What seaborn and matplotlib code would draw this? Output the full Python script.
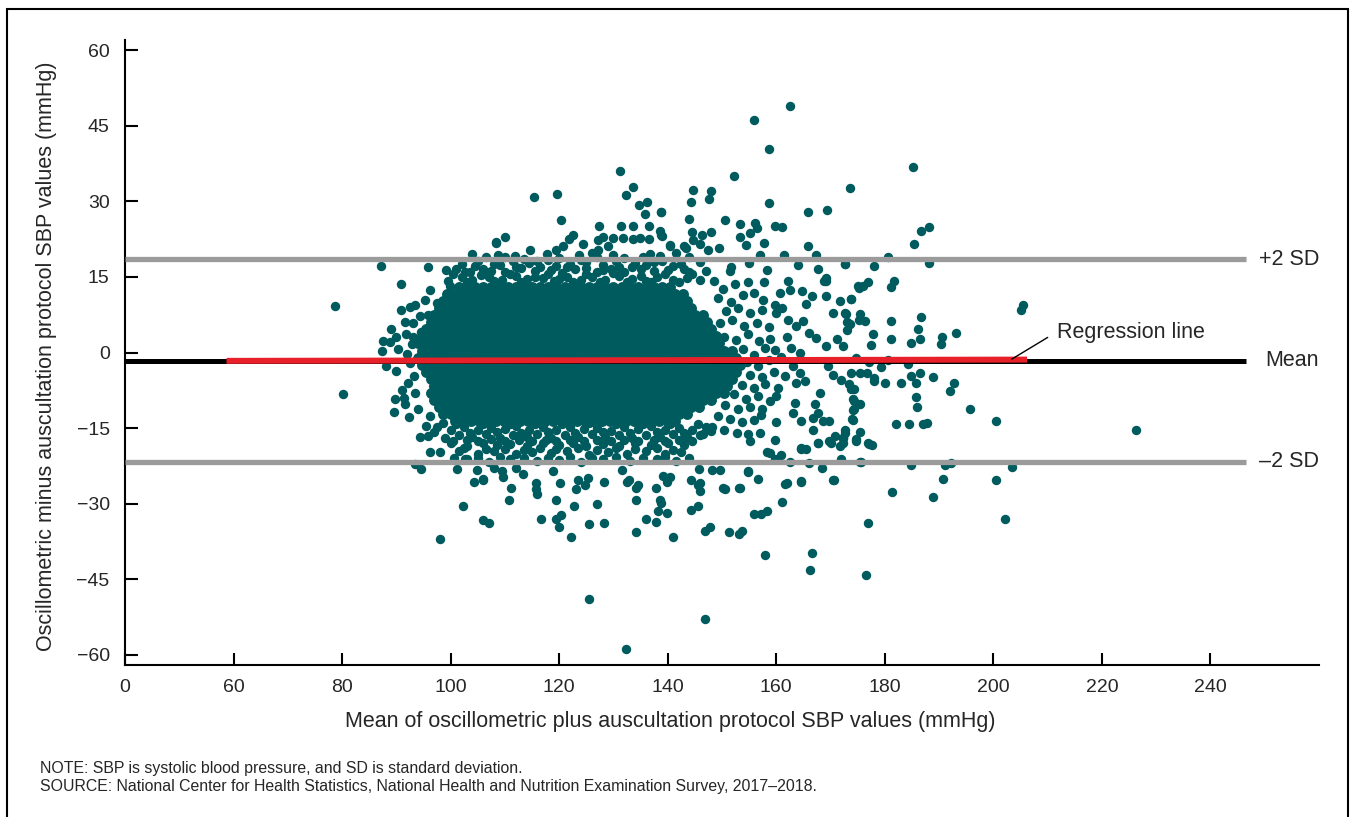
import matplotlib
matplotlib.use("Agg")
import matplotlib.pyplot as plt
from matplotlib.patches import Rectangle
import seaborn as sns
import pandas as pd

# summary lines (mmHg)
mean_diff = -1.6
sd_upper = 18.5
sd_lower = -21.7
regression_x = [58.7, 206.2]
regression_y = [-1.65, -1.4]

x_ticks = [40, 60, 80, 100, 120, 140, 160, 180, 200, 220, 240]
x_tick_labels = ["0", "60", "80", "100", "120", "140", "160", "180", "200", "220", "240"]
y_ticks = [-60, -45, -30, -15, 0, 15, 30, 45, 60]

# solid central mass, read row by row (y, x values)
core_rows = [
    (13.0, [101.5, 103, 104.5, 106, 107.5, 109, 110.5, 112, 113.5, 115, 116.5, 118, 119.5, 121, 122.5, 124,
            125.5, 127, 128.5, 130, 131.5, 133, 134.5, 136, 137.5, 139, 140.5]),
    (11.6, [99.3, 100.8, 102.3, 103.8, 105.3, 106.8, 108.3, 109.8, 111.3, 112.8, 114.3, 115.8, 117.3, 118.8,
            120.3, 121.8, 123.3, 124.8, 126.3, 127.8, 129.3, 130.8, 132.3, 133.8, 135.3, 136.8, 138.3, 139.8,
            141.3, 142.8]),
    (10.2, [98.5, 100, 101.5, 103, 104.5, 106, 107.5, 109, 110.5, 112, 113.5, 115, 116.5, 118, 119.5, 121,
            122.5, 124, 125.5, 127, 128.5, 130, 131.5, 133, 134.5, 136, 137.5, 139, 140.5, 142, 143.5]),
    (8.8, [97.8, 99.3, 100.8, 102.3, 103.8, 105.3, 106.8, 108.3, 109.8, 111.3, 112.8, 114.3, 115.8, 117.3,
           118.8, 120.3, 121.8, 123.3, 124.8, 126.3, 127.8, 129.3, 130.8, 132.3, 133.8, 135.3, 136.8, 138.3,
           139.8, 141.3, 142.8, 144.3]),
    (7.4, [97, 98.5, 100, 101.5, 103, 104.5, 106, 107.5, 109, 110.5, 112, 113.5, 115, 116.5, 118, 119.5, 121,
           122.5, 124, 125.5, 127, 128.5, 130, 131.5, 133, 134.5, 136, 137.5, 139, 140.5, 142, 143.5, 145,
           146.5]),
    (6.0, [96.3, 97.8, 99.3, 100.8, 102.3, 103.8, 105.3, 106.8, 108.3, 109.8, 111.3, 112.8, 114.3, 115.8,
           117.3, 118.8, 120.3, 121.8, 123.3, 124.8, 126.3, 127.8, 129.3, 130.8, 132.3, 133.8, 135.3, 136.8,
           138.3, 139.8, 141.3, 142.8, 144.3, 145.8, 147.3]),
    (4.6, [95.5, 97, 98.5, 100, 101.5, 103, 104.5, 106, 107.5, 109, 110.5, 112, 113.5, 115, 116.5, 118, 119.5,
           121, 122.5, 124, 125.5, 127, 128.5, 130, 131.5, 133, 134.5, 136, 137.5, 139, 140.5, 142, 143.5,
           145, 146.5, 148]),
    (3.2, [94.8, 96.3, 97.8, 99.3, 100.8, 102.3, 103.8, 105.3, 106.8, 108.3, 109.8, 111.3, 112.8, 114.3,
           115.8, 117.3, 118.8, 120.3, 121.8, 123.3, 124.8, 126.3, 127.8, 129.3, 130.8, 132.3, 133.8, 135.3,
           136.8, 138.3, 139.8, 141.3, 142.8, 144.3, 145.8, 147.3, 148.8]),
    (1.8, [94, 95.5, 97, 98.5, 100, 101.5, 103, 104.5, 106, 107.5, 109, 110.5, 112, 113.5, 115, 116.5, 118,
           119.5, 121, 122.5, 124, 125.5, 127, 128.5, 130, 131.5, 133, 134.5, 136, 137.5, 139, 140.5, 142,
           143.5, 145, 146.5, 148, 149.5]),
    (0.4, [94.8, 96.3, 97.8, 99.3, 100.8, 102.3, 103.8, 105.3, 106.8, 108.3, 109.8, 111.3, 112.8, 114.3,
           115.8, 117.3, 118.8, 120.3, 121.8, 123.3, 124.8, 126.3, 127.8, 129.3, 130.8, 132.3, 133.8, 135.3,
           136.8, 138.3, 139.8, 141.3, 142.8, 144.3, 145.8, 147.3, 148.8, 150.3, 151.8]),
    (-1.0, [94, 95.5, 97, 98.5, 100, 101.5, 103, 104.5, 106, 107.5, 109, 110.5, 112, 113.5, 115, 116.5, 118,
            119.5, 121, 122.5, 124, 125.5, 127, 128.5, 130, 131.5, 133, 134.5, 136, 137.5, 139, 140.5, 142,
            143.5, 145, 146.5, 148, 149.5, 151, 152.5]),
    (-2.4, [94.8, 96.3, 97.8, 99.3, 100.8, 102.3, 103.8, 105.3, 106.8, 108.3, 109.8, 111.3, 112.8, 114.3,
            115.8, 117.3, 118.8, 120.3, 121.8, 123.3, 124.8, 126.3, 127.8, 129.3, 130.8, 132.3, 133.8, 135.3,
            136.8, 138.3, 139.8, 141.3, 142.8, 144.3, 145.8, 147.3, 148.8, 150.3, 151.8, 153.3]),
    (-3.8, [95.5, 97, 98.5, 100, 101.5, 103, 104.5, 106, 107.5, 109, 110.5, 112, 113.5, 115, 116.5, 118,
            119.5, 121, 122.5, 124, 125.5, 127, 128.5, 130, 131.5, 133, 134.5, 136, 137.5, 139, 140.5, 142,
            143.5, 145, 146.5, 148, 149.5, 151, 152.5]),
    (-5.2, [96.3, 97.8, 99.3, 100.8, 102.3, 103.8, 105.3, 106.8, 108.3, 109.8, 111.3, 112.8, 114.3, 115.8,
            117.3, 118.8, 120.3, 121.8, 123.3, 124.8, 126.3, 127.8, 129.3, 130.8, 132.3, 133.8, 135.3, 136.8,
            138.3, 139.8, 141.3, 142.8, 144.3, 145.8, 147.3, 148.8, 150.3, 151.8]),
    (-6.6, [97, 98.5, 100, 101.5, 103, 104.5, 106, 107.5, 109, 110.5, 112, 113.5, 115, 116.5, 118, 119.5, 121,
            122.5, 124, 125.5, 127, 128.5, 130, 131.5, 133, 134.5, 136, 137.5, 139, 140.5, 142, 143.5, 145,
            146.5, 148, 149.5, 151]),
    (-8.0, [96.3, 97.8, 99.3, 100.8, 102.3, 103.8, 105.3, 106.8, 108.3, 109.8, 111.3, 112.8, 114.3, 115.8,
            117.3, 118.8, 120.3, 121.8, 123.3, 124.8, 126.3, 127.8, 129.3, 130.8, 132.3, 133.8, 135.3, 136.8,
            138.3, 139.8, 141.3, 142.8, 144.3, 145.8, 147.3, 148.8, 150.3]),
    (-9.4, [97, 98.5, 100, 101.5, 103, 104.5, 106, 107.5, 109, 110.5, 112, 113.5, 115, 116.5, 118, 119.5, 121,
            122.5, 124, 125.5, 127, 128.5, 130, 131.5, 133, 134.5, 136, 137.5, 139, 140.5, 142, 143.5, 145,
            146.5, 148]),
    (-10.8, [97.8, 99.3, 100.8, 102.3, 103.8, 105.3, 106.8, 108.3, 109.8, 111.3, 112.8, 114.3, 115.8, 117.3,
             118.8, 120.3, 121.8, 123.3, 124.8, 126.3, 127.8, 129.3, 130.8, 132.3, 133.8, 135.3, 136.8, 138.3,
             139.8, 141.3, 142.8, 144.3, 145.8]),
    (-12.2, [98.5, 100, 101.5, 103, 104.5, 106, 107.5, 109, 110.5, 112, 113.5, 115, 116.5, 118, 119.5, 121,
             122.5, 124, 125.5, 127, 128.5, 130, 131.5, 133, 134.5, 136, 137.5, 139, 140.5, 142, 143.5]),
    (-13.6, [100.8, 102.3, 103.8, 105.3, 106.8, 108.3, 109.8, 111.3, 112.8, 114.3, 115.8, 117.3, 118.8, 120.3,
             121.8, 123.3, 124.8, 126.3, 127.8, 129.3, 130.8, 132.3, 133.8, 135.3, 136.8, 138.3, 139.8, 141.3]),
]

# gappy band just above the mass
band_upper = [
    (99.5, 14.2), (102, 15.0), (104, 14.4), (107, 14.9), (109.5, 14.3), (112, 15.1), (114, 14.5), (117, 14.8),
    (119, 14.2), (121.5, 15.0), (124, 14.4), (126, 14.9), (128.5, 14.3), (131, 15.1), (133.5, 14.6),
    (136, 14.2), (138, 15.0), (141, 14.4), (143.5, 14.8),
    (101, 16.5), (103.5, 15.9), (106, 16.6), (110, 16.0), (113, 16.7), (115.5, 16.1), (118.5, 16.4),
    (120.5, 15.8), (123, 16.6), (127, 16.0), (129.5, 16.5), (132, 15.9), (135, 16.6), (137.5, 16.1),
    (140, 16.4), (144, 15.9),
    (102, 17.6), (105, 18.2), (108, 17.5), (111.5, 18.1), (114.5, 17.7), (118, 18.3), (122, 17.6), (125, 18.0),
    (128, 17.4), (130.5, 18.2), (134, 17.8), (139, 18.1), (142.5, 17.5), (146, 18.0),
    (104, 19.6), (108.8, 19.4), (111.8, 19.2), (117.7, 19.5), (123.6, 19.3), (126, 19.8), (130, 19.4),
    (136.8, 19.6), (138.5, 19.2), (141.5, 19.7),
    (100.5, 15.6), (103, 14.0), (105.5, 15.3), (108, 14.1), (111, 15.6), (113, 13.9), (115.5, 15.0),
    (118, 15.6), (120, 14.6), (122.5, 13.9), (125, 15.5), (127.5, 14.0), (130, 15.7), (132.5, 13.9),
    (135, 15.2), (137, 14.0), (139.5, 15.5), (142, 13.9), (144.5, 15.6), (146, 14.4),
    (104.5, 17.1), (107.5, 16.2), (109, 17.3), (112, 16.9), (116.5, 17.0), (119.5, 17.2), (121.5, 16.9),
    (125, 16.8), (128, 16.4), (131, 17.0), (133.5, 16.9), (136, 17.3), (141, 17.1), (143, 16.6), (147, 16.2),
    (106.5, 18.9), (110, 19.0), (113.5, 18.6), (116, 18.2), (120, 18.8), (124, 18.4), (127, 18.9),
    (132, 18.7), (135.5, 18.9), (137.5, 17.9), (144, 18.9),
]

# gappy band just below the mass
band_lower = [
    (97.5, -14.7), (100, -15.3), (102.5, -14.8), (105, -15.4), (107.5, -14.9), (110, -15.2), (112, -14.6),
    (114.5, -15.3), (117, -14.8), (119.5, -15.4), (122, -14.7), (124.5, -15.2), (127, -14.9), (129.5, -15.5),
    (132, -14.8), (134.5, -15.1), (137, -14.6), (139.5, -15.3), (142, -14.9), (144.5, -15.4), (147, -14.8),
    (99, -16.9), (101.5, -16.3), (104, -16.8), (106.5, -16.2), (109, -16.9), (111.5, -16.4), (114, -16.7),
    (116, -16.1), (118.5, -16.9), (121, -16.4), (123.5, -16.8), (126, -16.2), (128.5, -16.7), (131, -16.3),
    (133.5, -16.9), (136, -16.4), (138.5, -16.8), (141, -16.2), (143.5, -16.7), (146, -16.3),
    (100, -18.0), (103, -18.5), (106, -17.9), (108.5, -18.4), (111, -18.1), (114, -18.6), (117, -18.0),
    (120, -18.4), (122.5, -17.9), (125, -18.5), (128, -18.1), (131, -18.6), (134, -18.0), (137, -18.3),
    (140, -17.9), (143, -18.4),
    (101.5, -19.6), (105, -20.1), (108, -19.5), (112, -20.2), (115, -19.7), (118.5, -20.0), (121.5, -19.5),
    (125.5, -20.3), (129, -19.8), (132.5, -20.1), (136, -19.6), (139.5, -20.2), (142.5, -19.7),
    (103, -21.2), (107, -21.7), (111, -21.1), (116, -21.6), (120, -21.3), (124, -21.8), (128, -21.2),
    (133, -21.6), (138, -21.1), (141.5, -21.5),
    (98.5, -14.0), (101, -14.2), (103.5, -15.9), (106, -14.1), (108.5, -15.8), (111, -14.1), (113, -15.9),
    (115.5, -14.2), (118, -15.8), (120.5, -14.1), (123, -15.9), (125.5, -14.0), (128, -15.8), (130.5, -14.2),
    (133, -15.9), (135.5, -14.1), (138, -15.8), (140.5, -14.2), (143, -15.9), (145.5, -14.1), (148, -15.6),
    (100.5, -17.5), (103, -17.3), (105, -17.6), (107.5, -17.2), (110, -17.6), (112.5, -17.4), (115, -17.5),
    (117.5, -17.3), (119.5, -17.6), (122, -17.3), (124.5, -17.6), (127, -17.4), (129.5, -17.5), (132, -17.4),
    (134.5, -17.6), (137.5, -17.3), (139.5, -17.6), (142, -17.4), (144.5, -17.5),
    (102.5, -19.0), (106.5, -19.2), (110, -19.1), (113.5, -19.3), (116.5, -18.9), (119.5, -19.2),
    (123.5, -19.0), (127, -19.3), (130.5, -19.0), (134, -19.2), (138, -19.0), (141, -19.3),
    (105, -21.0), (109, -20.8), (113.5, -21.0), (118, -20.9), (122, -20.7), (126, -21.0), (130.5, -20.8),
    (135.5, -20.9), (139.5, -20.7), (144, -20.9),
]

left_fringe = [
    (87.6, 2.2), (87.4, 0.3), (88.8, 2.0), (89.0, 4.6), (90.0, 3.1), (90.3, 0.7), (91.7, 3.7), (93.1, 5.9),
    (94.3, 7.2), (95.9, 7.5), (88.0, -2.7), (90.0, -3.7), (89.8, -9.3), (91.4, -9.0), (91.6, -10.3),
    (89.6, -11.8), (92.1, -6.1), (92.5, -2.0), (92.9, 1.6), (92.3, -12.8), (93.5, 9.5), (90.8, 8.5),
    (95.4, -14.6), (93.2, -4.6), (91.1, -7.5), (92.0, -0.3), (93.4, -8.1), (94.0, -11.2), (94.5, 4.0),
    (93.0, 3.0), (91.5, 6.0), (95.3, 10.5), (96.2, -12.6), (97.0, -15.8), (94.3, -16.8), (92.6, 9.0),
    (97.4, 9.9), (80.2, -8.3), (78.7, 9.3),
]

right_fill = [
    (148.5, 14.2), (150.2, 12.6), (152.4, 13.5), (149.3, 10.8), (151.6, 10.1), (153.8, 11.4), (155.9, 11.9),
    (150.8, 8.2), (153.0, 8.9), (155.2, 7.8), (157.3, 8.4), (149.6, 5.8), (151.9, 6.4), (154.1, 5.3),
    (156.4, 5.9), (158.6, 5.1), (150.3, 3.1), (152.6, 2.4), (154.7, 3.6), (156.8, 2.2), (153.9, 0.8),
    (155.8, -0.4), (157.9, 0.9), (154.6, -1.9), (156.7, -2.6), (158.7, -1.5), (160.8, -0.8), (155.2, -4.4),
    (157.4, -4.9), (159.5, -3.9), (161.6, -4.6), (153.6, -6.4), (155.8, -7.1), (158.0, -6.2), (152.2, -8.3),
    (154.4, -9.2), (156.6, -8.6), (150.6, -10.5), (152.9, -11.3), (155.1, -10.9), (157.3, -11.2),
    (149.2, -12.6), (151.4, -13.1), (153.6, -13.8), (155.9, -13.4), (148.1, -14.7), (150.4, -15.4),
    (152.7, -15.9), (154.8, -16.2), (146.5, -16.1),
]

upper_sparse = [
    (108.3, 21.9), (87.1, 17.1), (95.9, 17.0), (99.2, 16.3), (102.6, 16.0), (105.9, 15.9), (90.8, 13.6),
    (96.2, 12.4), (99.9, 13.2), (131.2, 36.0), (133.6, 32.9), (132.3, 31.3), (115.4, 30.9), (119.6, 31.5),
    (134.7, 29.2), (136.2, 29.8), (135.8, 27.5), (138.7, 27.9), (120.4, 26.3), (127.3, 25.2), (131.3, 25.2),
    (133.6, 25.2), (136.5, 25.2), (138.5, 24.1), (139.0, 23.2), (110.0, 23.0), (108.3, 21.7), (122.6, 23.4),
    (121.8, 22.6), (124.3, 21.6), (127.2, 22.4), (128.1, 23.0), (130.0, 22.7), (131.8, 22.7), (133.6, 22.5),
    (134.8, 22.8), (136.5, 22.6), (120.7, 21.1), (119.5, 20.4), (114.6, 20.3), (140.5, 21.3), (129.0, 21.1),
    (127.2, 20.4), (162.5, 48.9), (155.8, 46.1), (158.7, 40.3), (152.2, 35.1), (173.5, 32.7), (144.7, 32.2),
    (147.9, 32.0), (144.2, 29.8), (147.6, 30.4), (158.7, 29.7), (165.8, 27.9), (169.3, 28.2), (138.8, 27.9),
    (143.9, 26.5), (150.5, 26.3), (153.4, 25.6), (156.1, 25.7), (156.4, 24.7), (155.1, 23.7), (153.3, 23.0),
    (154.5, 21.4), (159.8, 25.2), (161.1, 24.9), (144.5, 23.9), (146.3, 23.4), (147.9, 23.9), (144.6, 22.4),
    (145.9, 21.6), (138.8, 23.4), (140.5, 21.2), (143.0, 21.1), (143.4, 20.8), (149.4, 20.8), (147.4, 20.3),
    (157.7, 21.8), (165.8, 21.1), (185.2, 36.8), (186.7, 24.1), (188.2, 25.0), (185.4, 21.6), (180.6, 19.0),
]

right_sparse = [
    (157.0, 19.4), (161.5, 19.4), (167.4, 19.4), (172.6, 17.6), (164.0, 17.3), (167.7, 16.6), (169.1, 14.8),
    (168.8, 14.1), (175.0, 13.2), (158.2, 16.3), (155.0, 17.8), (151.7, 17.0), (151.5, 16.1), (154.8, 14.0),
    (157.7, 14.0), (162.2, 14.1), (162.5, 12.5), (160.6, 11.8), (164.8, 12.2), (166.5, 11.2), (165.5, 9.7),
    (169.2, 14.1), (169.1, 11.2), (171.7, 10.2), (173.7, 10.6), (172.6, 7.9), (170.4, 7.9), (173.1, 6.0),
    (157.5, 10.5), (159.7, 9.5), (161.1, 8.9), (160.0, 7.9), (162.2, 6.5), (163.7, 5.2), (165.0, 6.2),
    (166.1, 3.9), (167.4, 2.9), (169.2, 1.2), (171.1, 2.7), (172.3, 1.3), (161.9, 3.1), (162.8, 0.9),
    (164.3, 0.0), (158.8, 2.6), (159.7, 0.6), (163.1, -2.7), (164.3, -4.0), (165.2, -5.7), (163.7, -6.0),
    (169.5, -2.7), (170.4, -4.4), (171.9, -5.4), (173.4, -6.3), (173.8, -7.2), (168.0, -8.0), (167.1, -10.3),
    (167.7, -12.0), (168.6, -13.6), (163.4, -10.0), (163.1, -12.0), (164.6, -13.6), (166.8, -13.0),
    (169.8, -13.6), (160.3, -7.0), (160.0, -8.7), (158.8, -9.7), (157.2, -12.3), (160.0, -13.8),
    (174.1, -9.3), (174.3, -11.3), (174.1, -13.3), (172.6, -15.3), (172.2, -16.9), (171.7, -18.6),
    (166.8, -15.3), (167.7, -17.9), (165.5, -19.2), (164.6, -19.1), (169.8, -17.6), (170.8, -16.6),
    (159.7, -17.3), (160.9, -20.4), (158.8, -19.9), (157.0, -15.9), (155.1, -17.6),
    (172.7, 17.6), (178.0, 17.1), (188.2, 17.8), (175.2, 12.8), (176.0, 13.2), (176.9, 14.0), (181.2, 13.0),
    (181.7, 14.1), (173.8, 10.6), (205.0, 8.5), (205.4, 9.5), (172.9, 7.7), (175.5, 7.7), (176.4, 6.2),
    (175.2, 6.5), (173.5, 5.6), (173.1, 4.4), (181.2, 6.2), (186.7, 7.0), (186.2, 4.6), (186.4, 2.6),
    (177.8, 3.7), (177.5, 1.4), (181.2, 2.6), (184.9, 1.9), (190.5, 3.1), (190.3, 1.6), (193.2, 3.9),
    (174.7, -1.0), (177.0, -1.9), (179.3, -2.8), (180.6, -1.5), (184.3, -2.3), (173.8, -4.0), (175.4, -4.0),
    (176.7, -4.1), (178.0, -5.1), (178.0, -5.7), (184.9, -4.7), (186.4, -4.0), (188.9, -4.8), (180.1, -6.0),
    (183.0, -6.0), (185.7, -6.0), (174.3, -7.3), (192.8, -6.0), (192.0, -7.7), (185.7, -8.8), (185.9, -10.8),
    (195.7, -11.2), (174.3, -9.7), (175.4, -10.3), (174.2, -11.4), (174.0, -13.1), (182.0, -14.1),
    (184.4, -14.1), (187.0, -14.1), (187.8, -14.0), (200.4, -13.5), (172.6, -15.9), (175.4, -15.8),
    (172.3, -16.9), (174.7, -17.1), (177.0, -18.1), (177.6, -18.4), (175.5, -21.8), (184.9, -22.4),
    (191.0, -22.4), (192.2, -22.0), (203.4, -22.8), (190.7, -25.1), (200.5, -25.3), (181.4, -27.6),
    (188.9, -28.6), (226.3, -15.4), (202.1, -33.1),
]

lower_sparse = [
    (95.9, -16.5), (96.2, -19.8), (98.0, -19.8), (93.4, -22.2), (94.6, -23.1), (100.6, -20.9), (101.1, -23.1),
    (102.7, -21.1), (104.8, -23.4), (104.3, -25.7), (105.9, -25.3), (102.2, -30.4), (105.9, -33.3),
    (107.0, -33.9), (98.0, -36.9), (106.0, -25.1), (108.0, -22.9), (109.4, -23.5), (109.6, -24.7),
    (112.0, -22.9), (113.4, -24.1), (111.2, -26.8), (110.7, -29.3), (115.7, -25.9), (115.8, -27.0),
    (115.9, -28.0), (119.4, -29.3), (120.1, -25.9), (118.9, -23.5), (116.7, -33.1), (119.4, -33.1),
    (120.4, -32.3), (119.9, -34.6), (122.2, -36.6), (122.8, -30.4), (123.1, -27.0), (124.7, -26.2),
    (123.5, -25.3), (125.3, -24.9), (125.5, -34.0), (127.0, -30.0), (128.3, -33.8), (128.3, -25.7),
    (125.5, -48.8), (131.6, -23.3), (132.4, -25.7), (132.8, -25.2), (134.1, -26.8), (134.6, -26.2),
    (134.2, -29.2), (134.1, -35.6), (132.3, -58.9), (136.0, -33.1), (137.8, -33.7), (138.2, -31.5),
    (138.5, -29.3), (138.8, -29.8), (137.9, -26.9), (139.9, -31.9), (141.0, -36.6), (139.1, -24.5),
    (140.5, -24.7), (139.8, -25.7), (144.2, -25.3), (144.2, -31.3), (145.6, -30.4), (145.5, -26.2),
    (146.0, -27.5), (145.7, -23.2), (146.8, -52.8), (146.9, -35.5), (147.8, -34.6), (148.2, -23.3),
    (149.6, -23.3), (150.5, -27.0), (151.3, -35.7), (153.2, -26.9), (153.1, -36.1), (153.7, -35.5),
    (154.8, -23.7), (156.6, -25.1), (155.8, -32.1), (157.2, -32.1), (158.2, -31.5), (157.9, -40.1),
    (161.1, -29.7), (161.6, -26.0), (164.5, -25.7), (166.6, -39.7), (166.3, -43.1), (170.6, -25.3),
    (168.5, -23.0), (166.1, -22.0), (164.6, -18.9), (176.9, -33.8), (176.6, -44.1), (167.7, -18.0),
    (170.1, -18.0), (172.3, -18.0), (176.9, -18.0), (174.7, -17.5), (162.5, -21.8), (159.8, -21.2),
    (158.2, -19.8), (171.9, -21.1), (175.6, -21.8), (154.8, -23.6), (150.2, -26.8), (153.3, -26.8),
    (145.9, -25.9), (161.9, -25.9), (164.6, -25.5), (170.4, -25.2),
]

# collect the points into tables
core_pts = []
for row_y, row_x in core_rows:
    core_pts += [(x, row_y) for x in row_x]
core_df = pd.DataFrame(core_pts, columns=["mean_sbp", "diff_sbp"])

other_pts = band_upper + band_lower + left_fringe + right_fill
other_pts += upper_sparse + right_sparse + lower_sparse
other_df = pd.DataFrame(other_pts, columns=["mean_sbp", "diff_sbp"])

sns.set_style("white")
plt.rcParams["font.family"] = ["Liberation Sans", "DejaVu Sans"]

fig = plt.figure(figsize=(13.53, 8.17), dpi=100)
ax = fig.add_axes([0.0924, 0.186, 0.8825, 0.765])

dot_color = "#005b5e"
# core dots slightly larger so the overlapping mass reads as solid
sns.scatterplot(data=core_df, x="mean_sbp", y="diff_sbp", ax=ax,
                color=dot_color, s=62, linewidth=0, zorder=2)
sns.scatterplot(data=other_df, x="mean_sbp", y="diff_sbp", ax=ax,
                color=dot_color, s=46, linewidth=0, zorder=2)

# reference lines
line_end = 246.6
ax.hlines([sd_upper, sd_lower], 40, line_end, colors="#9b9b9b", linewidth=3.8, zorder=3)
ax.hlines(mean_diff, 40, line_end, colors="black", linewidth=3.6, zorder=3)
ax.plot(regression_x, regression_y, color="#e8202a", linewidth=4.3, zorder=4, solid_capstyle="butt")

label_size = 15.5
ax.text(260, sd_upper, "+2 SD", ha="right", va="center", fontsize=label_size)
ax.text(260, mean_diff, "Mean", ha="right", va="center", fontsize=label_size)
ax.text(260, sd_lower, "\u20132 SD", ha="right", va="center", fontsize=label_size)
ax.plot([203.4, 210.0], [-1.3, 3.0], color="black", linewidth=1.0, zorder=5)
ax.text(211.8, 4.0, "Regression line", ha="left", va="center", fontsize=label_size)

ax.set_xlim(40, 260)
ax.set_ylim(-62, 62)
ax.set_xticks(x_ticks)
ax.set_xticklabels(x_tick_labels)
ax.set_yticks(y_ticks)
ax.tick_params(bottom=True, left=True, direction="in", length=9, width=1.5,
               labelsize=14, color="black")
ax.tick_params(axis="x", pad=10)
ax.tick_params(axis="y", pad=11)

for side in ["top", "right"]:
    ax.spines[side].set_visible(False)
for side in ["left", "bottom"]:
    ax.spines[side].set_linewidth(1.5)
    ax.spines[side].set_color("black")

ax.set_xlabel("Mean of oscillometric plus auscultation protocol SBP values (mmHg)", fontsize=label_size)
ax.set_ylabel("Oscillometric minus auscultation protocol SBP values (mmHg)", fontsize=label_size)
ax.xaxis.set_label_coords(0.457, -0.073)
ax.yaxis.set_label_coords(-0.057, 0.494)

fig.text(40 / 1353, 1 - 768 / 817,
         "NOTE: SBP is systolic blood pressure, and SD is standard deviation.",
         fontsize=11.4, va="center", ha="left")
fig.text(40 / 1353, 1 - 787 / 817,
         "SOURCE: National Center for Health Statistics, National Health and Nutrition Examination Survey, 2017\u20132018.",
         fontsize=11.4, va="center", ha="left")

# thin frame round the whole figure
fig.patches.append(Rectangle((7 / 1353, -0.01), (1348 - 7) / 1353, 1.0 - 9 / 817 + 0.01,
                             transform=fig.transFigure, fill=False, linewidth=1.5, edgecolor="black"))

fig.savefig("out.png", dpi=100)
